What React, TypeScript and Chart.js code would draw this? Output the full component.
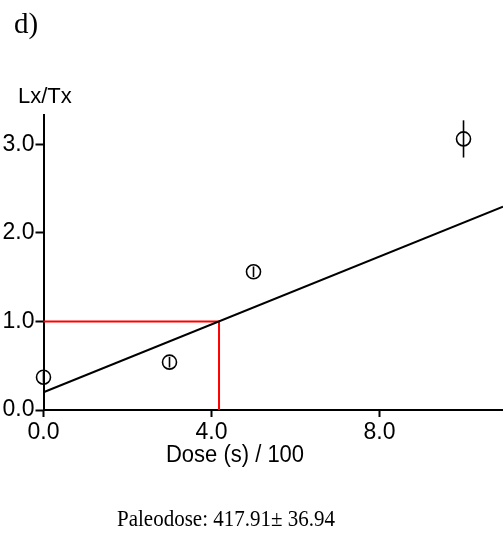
import React, { useEffect, useRef } from "react";
import { Chart, registerables } from "chart.js";

Chart.register(...registerables);

// Data
const doses = [0, 3, 5, 10]; // Dose (s) / 100
const lxtx = [0.37, 0.54, 1.56, 3.06];
const lxtxErr = [0.06, 0.06, 0.06, 0.21];
const fitX = [0, 10.94];
const fitY = [0.2, 2.294];
const paleodose = 4.1791; // 417.91 s / 100
const naturalLxTx = 1.0;
const xTicks = [0, 4, 8];
const yTicks = [0, 1, 2, 3];
const xMax = 10.94;
const yMax = 3.33;

const SANS = "'Liberation Sans', Arial, sans-serif";
const SERIF = "'Liberation Serif', 'Times New Roman', serif";

const textPlugin = {
  id: "extras",
  afterDatasetsDraw(chart: any) {
    const ctx = chart.ctx;
    const xs = chart.scales.x;
    const ys = chart.scales.y;
    ctx.save();
    ctx.strokeStyle = "#000";
    ctx.lineWidth = 1.6;
    doses.forEach((d, i) => {
      const px = xs.getPixelForValue(d);
      const y1 = ys.getPixelForValue(lxtx[i] - lxtxErr[i]);
      const y2 = ys.getPixelForValue(lxtx[i] + lxtxErr[i]);
      ctx.beginPath();
      ctx.moveTo(px, y1);
      ctx.lineTo(px, y2);
      ctx.stroke();
    });
    ctx.restore();
  },
  afterDraw(chart: any) {
    const ctx = chart.ctx;
    const draw = (txt: string, x: number, y: number, font: string, align: CanvasTextAlign, sy: number) => {
      ctx.save();
      ctx.translate(x, y);
      ctx.scale(1, sy);
      ctx.font = font;
      ctx.textAlign = align;
      ctx.textBaseline = "alphabetic";
      ctx.fillStyle = "#000";
      ctx.fillText(txt, 0, 0);
      ctx.restore();
    };
    draw("d)", 14, 33, `29px ${SERIF}`, "left", 1.05);
    draw("Lx/Tx", 18, 103, `22px ${SANS}`, "left", 1);
    draw("Dose (s) / 100", 235, 462, `22px ${SANS}`, "center", 1.05);
    draw("Paleodose: 417.91\u00b1 36.94", 117, 526, `21px ${SERIF}`, "left", 1.12);
  },
};

export default function App() {
  const ref = useRef<HTMLCanvasElement | null>(null);
  useEffect(() => {
    if (!ref.current) return;
    const chart = new Chart(ref.current, {
      type: "scatter",
      data: {
        datasets: [
          {
            type: "line",
            data: fitX.map((x, i) => ({ x, y: fitY[i] })),
            borderColor: "#000",
            borderWidth: 2,
            pointRadius: 0,
            fill: false,
            clip: false,
          } as any,
          {
            type: "line",
            data: [
              { x: 0, y: naturalLxTx },
              { x: paleodose, y: naturalLxTx },
              { x: paleodose, y: 0 },
            ],
            borderColor: "#ff0000",
            borderWidth: 2,
            pointRadius: 0,
            fill: false,
            clip: false,
          } as any,
          {
            type: "scatter",
            data: doses.map((x, i) => ({ x, y: lxtx[i] })),
            pointStyle: "circle",
            pointRadius: 7,
            borderColor: "#000",
            backgroundColor: "rgba(0,0,0,0)",
            borderWidth: 1.6,
            clip: false,
          } as any,
        ],
      },
      options: {
        responsive: false,
        animation: false,
        layout: { autoPadding: false, padding: { top: 115, left: 0, right: 0, bottom: 0 } },
        plugins: {
          legend: { display: false },
          tooltip: { enabled: false },
          title: { display: false },
        },
        scales: {
          x: {
            type: "linear",
            min: 0,
            max: xMax,
            afterBuildTicks: (s: any) => {
              s.ticks = xTicks.map((v) => ({ value: v }));
            },
            afterFit: (s: any) => {
              s.height = 125;
              s.paddingLeft = 0;
              s.paddingRight = 0;
            },
            grid: {
              drawOnChartArea: false,
              drawTicks: true,
              tickLength: 7,
              color: "#000",
              tickWidth: 2,
            } as any,
            border: { display: true, color: "#000", width: 2 },
            ticks: {
              color: "#000",
              padding: 2,
              maxRotation: 0,
              font: { family: SANS, size: 23 },
              callback: (v: any) => Number(v).toFixed(1),
            },
          },
          y: {
            type: "linear",
            min: 0,
            max: yMax,
            afterBuildTicks: (s: any) => {
              s.ticks = yTicks.map((v) => ({ value: v }));
            },
            afterFit: (s: any) => {
              s.width = 43.5;
              s.paddingTop = 0;
              s.paddingBottom = 0;
            },
            grid: {
              drawOnChartArea: false,
              drawTicks: true,
              tickLength: 8,
              color: "#000",
              tickWidth: 2,
            } as any,
            border: { display: true, color: "#000", width: 2 },
            ticks: {
              color: "#000",
              padding: 1,
              font: { family: SANS, size: 23 },
              callback: (v: any) => Number(v).toFixed(1),
            },
          },
        },
      },
      plugins: [textPlugin],
    });
    return () => chart.destroy();
  }, []);
  return (
    <div style={{ position: "absolute", left: 0, top: 0, width: 503, height: 535, background: "#fff" }}>
      <canvas ref={ref} width={503} height={535} style={{ display: "block" }} />
    </div>
  );
}
